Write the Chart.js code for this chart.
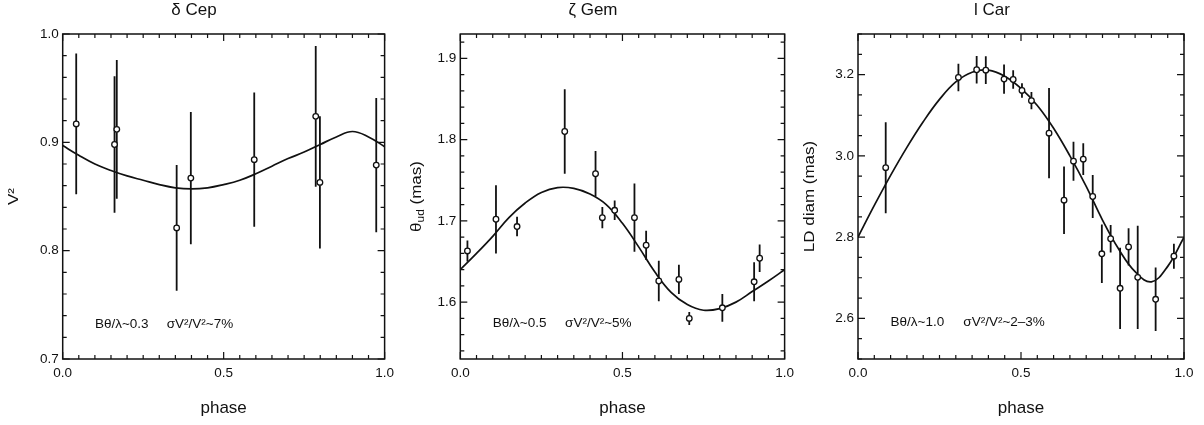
<!DOCTYPE html>
<html>
<head>
<meta charset="utf-8">
<script src="https://cdn.jsdelivr.net/npm/chart.js@4.4.1/dist/chart.umd.min.js"></script>
<style>
  html, body { margin: 0; padding: 0; background: #fff; }
  .panel { position: absolute; top: 0; height: 425px; }
</style>
</head>
<body>
<div class="panel" style="left:0;width:400px"><canvas id="cep"></canvas></div>
<div class="panel" style="left:400px;width:400px"><canvas id="gem"></canvas></div>
<div class="panel" style="left:800px;width:404px"><canvas id="car"></canvas></div>
<script>
// phase grid for the model curves (every 0.05)
const fitPhase = [0, 0.05, 0.1, 0.15, 0.2, 0.25, 0.3, 0.35, 0.4, 0.45, 0.5,
                  0.55, 0.6, 0.65, 0.7, 0.75, 0.8, 0.85, 0.9, 0.95, 1.0];
const phaseTicks = [0, 0.5, 1.0];

// delta Cep : squared visibility
const cepPhase = [0.042, 0.161, 0.168, 0.354, 0.398, 0.595, 0.786, 0.799, 0.974];
const cepV2    = [0.917, 0.898, 0.912, 0.821, 0.867, 0.884, 0.924, 0.863, 0.879];
const cepErr   = [0.065, 0.063, 0.064, 0.058, 0.061, 0.062, 0.065, 0.061, 0.062];
const cepFit   = [0.897, 0.888, 0.880, 0.874, 0.869, 0.865, 0.861, 0.858, 0.857, 0.858, 0.861,
                  0.865, 0.871, 0.878, 0.885, 0.891, 0.898, 0.905, 0.910, 0.905, 0.896];
const cepTicks = [0.7, 0.8, 0.9, 1.0];

// zeta Gem : uniform disc diameter
const gemPhase = [0.022, 0.110, 0.175, 0.322, 0.417, 0.438, 0.476, 0.537, 0.573, 0.612,
                  0.674, 0.706, 0.808, 0.906, 0.923];
const gemTheta = [1.663, 1.702, 1.693, 1.810, 1.758, 1.704, 1.713, 1.704, 1.670, 1.626,
                  1.628, 1.580, 1.593, 1.625, 1.654];
const gemErr   = [0.013, 0.042, 0.012, 0.052, 0.028, 0.013, 0.012, 0.042, 0.018, 0.025,
                  0.018, 0.008, 0.017, 0.024, 0.017];
const gemFit   = [1.640, 1.660, 1.681, 1.704, 1.722, 1.735, 1.741, 1.740, 1.733, 1.720, 1.697,
                  1.668, 1.637, 1.612, 1.597, 1.590, 1.592, 1.600, 1.613, 1.626, 1.640];
const gemTicks = [1.6, 1.7, 1.8, 1.9];

// l Car : limb-darkened diameter
const carPhase = [0.085, 0.308, 0.364, 0.392, 0.448, 0.476, 0.503, 0.532, 0.586, 0.632,
                  0.661, 0.691, 0.720, 0.748, 0.775, 0.804, 0.830, 0.858, 0.913, 0.969];
const carDiam  = [2.971, 3.193, 3.212, 3.211, 3.189, 3.188, 3.161, 3.136, 3.056, 2.891,
                  2.987, 2.992, 2.900, 2.759, 2.796, 2.674, 2.776, 2.701, 2.647, 2.753];
const carErr   = [0.112, 0.034, 0.034, 0.034, 0.036, 0.023, 0.018, 0.021, 0.111, 0.083,
                  0.048, 0.039, 0.053, 0.072, 0.034, 0.100, 0.046, 0.127, 0.078, 0.031];
const carFit   = [2.800, 2.878, 2.952, 3.021, 3.084, 3.139, 3.182, 3.206, 3.211, 3.196, 3.166,
                  3.124, 3.068, 3.000, 2.925, 2.842, 2.770, 2.715, 2.690, 2.728, 2.800];
const carTicks = [2.6, 2.8, 3.0, 3.2];

const FONT = "'Liberation Sans', Arial, Helvetica, sans-serif";
const INK = '#111';
Chart.defaults.font.family = FONT;
Chart.defaults.color = INK;

// error bars, boxed frame with inward ticks, notes and the rotated y title
const framePlugin = {
  id: 'frame',
  beforeDatasetsDraw(chart) {
    const { ctx, scales: { x, y } } = chart;
    ctx.save();
    ctx.strokeStyle = INK;
    ctx.lineWidth = 1.8;
    ctx.beginPath();
    chart.data.datasets[1].data.forEach(p => {
      const px = x.getPixelForValue(p.x);
      ctx.moveTo(px, y.getPixelForValue(p.y - p.err));
      ctx.lineTo(px, y.getPixelForValue(p.y + p.err));
    });
    ctx.stroke();
    ctx.restore();
  },
  afterDraw(chart, args, opts) {
    const { ctx, chartArea: a, scales: { x, y } } = chart;
    ctx.save();
    ctx.strokeStyle = INK;
    ctx.lineWidth = 1.5;
    ctx.strokeRect(a.left, a.top, a.right - a.left, a.bottom - a.top);

    ctx.lineWidth = 1.2;
    ctx.beginPath();
    for (let i = 0; i <= 20; i++) {
      const px = x.getPixelForValue(i * 0.05);
      const len = i % 10 === 0 ? 7 : 4;
      ctx.moveTo(px, a.bottom); ctx.lineTo(px, a.bottom - len);
      ctx.moveTo(px, a.top); ctx.lineTo(px, a.top + len);
    }
    const n0 = Math.ceil(y.min / opts.minor - 1e-6);
    const n1 = Math.floor(y.max / opts.minor + 1e-6);
    for (let n = n0; n <= n1; n++) {
      const v = n * opts.minor;
      const py = y.getPixelForValue(v);
      const len = y.ticks.some(t => Math.abs(t.value - v) < 1e-6) ? 7 : 4;
      ctx.moveTo(a.left, py); ctx.lineTo(a.left + len, py);
      ctx.moveTo(a.right, py); ctx.lineTo(a.right - len, py);
    }
    ctx.stroke();

    ctx.fillStyle = INK;
    ctx.font = `13.5px ${FONT}`;
    ctx.textAlign = 'left';
    ctx.textBaseline = 'alphabetic';
    opts.notes.forEach(n => ctx.fillText(n.text, x.getPixelForValue(n.x), y.getPixelForValue(n.y)));

    // rotated y title (pieces so that a subscript can be drawn)
    ctx.translate(opts.titleX, (a.top + a.bottom) / 2);
    ctx.rotate(-Math.PI / 2);
    ctx.scale(1, 0.85);
    ctx.textBaseline = 'middle';
    const fontOf = p => (p.sub ? `12px ${FONT}` : `17px ${FONT}`);
    let total = 0;
    opts.yTitle.forEach(p => { ctx.font = fontOf(p); total += ctx.measureText(p.text).width; });
    let cx = -total / 2;
    opts.yTitle.forEach(p => {
      ctx.font = fontOf(p);
      ctx.fillText(p.text, cx, p.sub ? 5 : 0);
      cx += ctx.measureText(p.text).width;
    });
    ctx.restore();
  }
};

function makePanel(id, cfg) {
  const fit = fitPhase.map((p, i) => ({ x: p, y: cfg.fit[i] }));
  const obs = cfg.phase.map((p, i) => ({ x: p, y: cfg.values[i], err: cfg.err[i] }));
  return new Chart(document.getElementById(id), {
    type: 'scatter',
    data: {
      datasets: [
        { data: fit, showLine: true, pointRadius: 0, borderColor: INK, borderWidth: 1.7, tension: 0.4, order: 2 },
        { data: obs, pointRadius: 2.8, pointBackgroundColor: '#fff', pointBorderColor: INK, pointBorderWidth: 1.3, order: 1 }
      ]
    },
    options: {
      animation: false,
      responsive: true,
      maintainAspectRatio: false,
      layout: { padding: { left: 0, right: cfg.padRight, top: 0, bottom: 0 } },
      plugins: {
        legend: { display: false },
        tooltip: { enabled: false },
        title: {
          display: true, text: cfg.title, color: INK,
          font: { size: 17, weight: 'normal' },
          padding: { top: 0.6, bottom: 13 }
        },
        frame: { minor: cfg.minor, notes: cfg.notes, yTitle: cfg.yTitle, titleX: cfg.titleX }
      },
      scales: {
        x: {
          type: 'linear', min: 0, max: 1,
          afterBuildTicks: s => { s.ticks = phaseTicks.map(v => ({ value: v })); },
          afterFit: s => { s.height = 66; },
          ticks: { font: { size: 13.5 }, color: INK, padding: 6, maxRotation: 0, autoSkip: false,
                   callback: v => v.toFixed(1) },
          grid: { display: false, drawTicks: false },
          border: { display: false },
          title: { display: true, text: 'phase', color: INK, font: { size: 17 }, padding: { top: 0, bottom: 6 } }
        },
        y: {
          type: 'linear', min: cfg.yMin, max: cfg.yMax,
          afterBuildTicks: s => { s.ticks = cfg.yTicks.map(v => ({ value: v })); },
          afterFit: s => { s.width = cfg.left; },
          ticks: { font: { size: 13.5 }, color: INK, padding: 4, callback: v => v.toFixed(1) },
          grid: { display: false, drawTicks: false },
          border: { display: false }
        }
      }
    },
    plugins: [framePlugin]
  });
}

makePanel('cep', {
  title: 'δ Cep', phase: cepPhase, values: cepV2, err: cepErr, fit: cepFit,
  yMin: 0.7, yMax: 1.0, yTicks: cepTicks, minor: 0.02,
  left: 62.7, padRight: 12, titleX: 13.7,
  yTitle: [{ text: 'V²' }],
  notes: [{ x: 0.1, y: 0.729, text: 'Bθ/λ~0.3' }, { x: 0.323, y: 0.729, text: 'σV²/V²~7%' }]
});

makePanel('gem', {
  title: 'ζ Gem', phase: gemPhase, values: gemTheta, err: gemErr, fit: gemFit,
  yMin: 1.53, yMax: 1.93, yTicks: gemTicks, minor: 0.02,
  left: 60.3, padRight: 14, titleX: 17,
  yTitle: [{ text: 'θ' }, { text: 'ud', sub: true }, { text: ' (mas)' }],
  notes: [{ x: 0.1, y: 1.570, text: 'Bθ/λ~0.5' }, { x: 0.323, y: 1.570, text: 'σV²/V²~5%' }]
});

makePanel('car', {
  title: 'l Car', phase: carPhase, values: carDiam, err: carErr, fit: carFit,
  yMin: 2.5, yMax: 3.3, yTicks: carTicks, minor: 0.05,
  left: 58, padRight: 20, titleX: 10.3,
  yTitle: [{ text: 'LD diam (mas)' }],
  notes: [{ x: 0.1, y: 2.581, text: 'Bθ/λ~1.0' }, { x: 0.323, y: 2.581, text: 'σV²/V²~2–3%' }]
});
</script>
</body>
</html>
